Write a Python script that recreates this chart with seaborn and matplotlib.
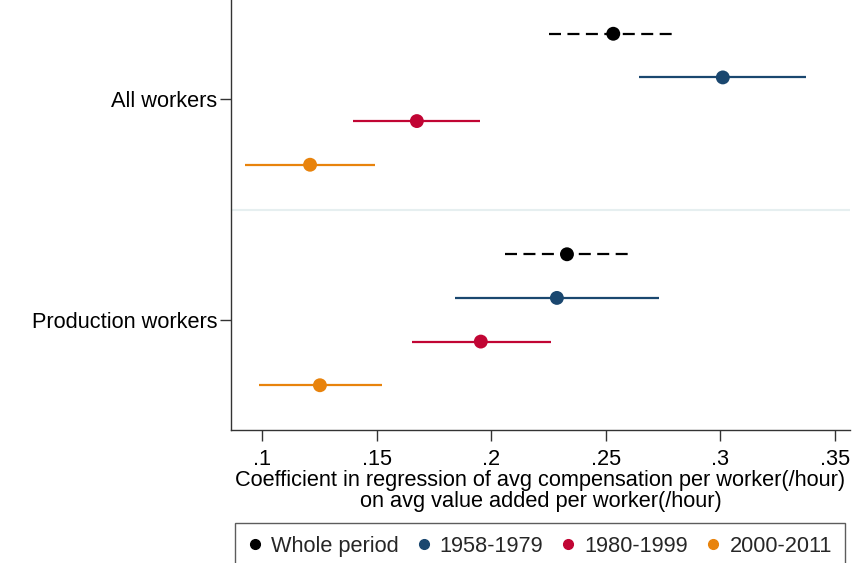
import numpy as np
import pandas as pd
import matplotlib
matplotlib.use("Agg")
import matplotlib.pyplot as plt
import seaborn as sns
from matplotlib.lines import Line2D
from matplotlib.ticker import FuncFormatter

sns.set_theme(style="white")
plt.rcParams['font.family'] = ['Liberation Sans', 'DejaVu Sans']

groups = ["All workers", "Production workers"]
periods = ["Whole period", "1958-1979", "1980-1999", "2000-2011"]
colors = ["#000000", "#1a476f", "#c10534", "#e8830c"]

# point estimates and CI bounds, per group in order of periods
est_all = [0.2533, 0.3011, 0.1676, 0.1210]
lo_all = [0.2252, 0.2645, 0.1397, 0.0926]
hi_all = [0.2806, 0.3373, 0.1951, 0.1493]
est_prod = [0.2331, 0.2287, 0.1955, 0.1253]
lo_prod = [0.2060, 0.1842, 0.1654, 0.0987]
hi_prod = [0.2606, 0.2732, 0.2261, 0.1524]

rows = []
for gi, (est, lo, hi) in enumerate([(est_all, lo_all, hi_all), (est_prod, lo_prod, hi_prod)]):
    for pi, p in enumerate(periods):
        rows.append(dict(group=groups[gi], period=p, est=est[pi], lo=lo[pi], hi=hi[pi],
                         y=gi + (pi - 1.5) * 0.198))
df = pd.DataFrame(rows)

FS = 15.7

fig = plt.figure(figsize=(8.53, 5.63), dpi=100)
ax = fig.add_axes([231/853, 1 - 430/563, (850 - 231)/853, (430 + 11)/563])

for pi, p in enumerate(periods):
    sub = df[df.period == p]
    ax.hlines(sub.y, sub.lo, sub.hi, color=colors[pi], lw=1.6,
              linestyles=(0, (5.4, 2.9)) if pi == 0 else "solid", zorder=2)

sns.scatterplot(data=df, x="est", y="y", hue="period", palette=colors, hue_order=periods,
                s=100, edgecolor="none", legend=False, ax=ax, zorder=3)

ax.axhline(0.5, color="#e6eff0", lw=1.5, zorder=1)

ax.set_xlim(0.0865, 0.3566)
ax.set_ylim(1.5, -0.5)
ax.set_xticks([0.1, 0.15, 0.2, 0.25, 0.3, 0.35])
ax.xaxis.set_major_formatter(FuncFormatter(lambda v, _: ("%g" % round(v, 3)).lstrip("0")))
ax.set_yticks([0, 1])
ax.set_yticklabels(groups)
ax.tick_params(axis="both", which="major", length=8, width=1, color="#333333",
               labelsize=FS, direction="out", bottom=True, left=True, labelcolor="black")
ax.tick_params(axis="x", pad=6)
ax.tick_params(axis="y", pad=2)
for s in ["top", "right"]:
    ax.spines[s].set_visible(False)
for s in ["left", "bottom"]:
    ax.spines[s].set_color("#333333")
    ax.spines[s].set_linewidth(1.0)
ax.set_xlabel("Coefficient in regression of avg compensation per worker(/hour)\non avg value added per worker(/hour)",
              fontsize=FS, labelpad=0, linespacing=1.0, color="black")
ax.set_ylabel("")
ax.set_facecolor("white")

handles = [Line2D([], [], marker="o", ls="none", color=c, markersize=7) for c in colors]
leg = fig.legend(handles, periods, loc="upper center", bbox_to_anchor=(540/853, 1 - 523/563),
                 ncol=4, fontsize=FS, frameon=True, fancybox=False, edgecolor="#333333",
                 handletextpad=0.44, columnspacing=0.85, borderpad=0.6, handlelength=0.6,
                 borderaxespad=0)
leg.get_frame().set_linewidth(1.0)

fig.savefig("out.png", dpi=100, facecolor="white")
